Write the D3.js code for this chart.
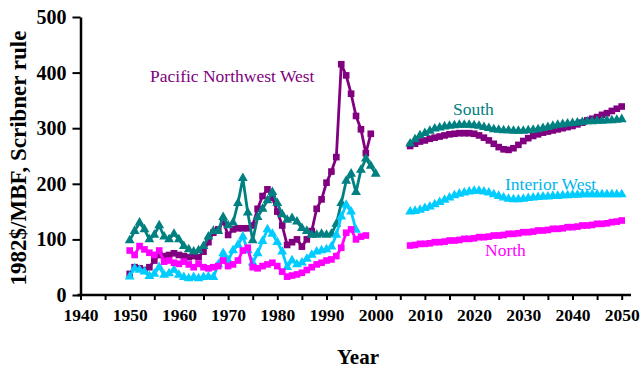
<!DOCTYPE html>
<html>
<head>
<meta charset="utf-8">
<script src="https://cdn.jsdelivr.net/npm/d3@7/dist/d3.min.js"></script>
<style>
  html, body { margin: 0; padding: 0; background: #fff; }
  svg { display: block; }
  text { font-family: "Liberation Serif", "Times New Roman", serif; }
</style>
</head>
<body>
<svg id="chart" width="642" height="370"></svg>
<script>
// Stumpage prices, 1982 dollars per thousand board feet (Scribner rule)
const histStart = 1950;
const projStart = 2007;

// Historical series (one value per year from 1950)
const pnwwHist = [38, 50, 48, 45, 50, 62, 72, 70, 72, 75, 72, 70, 68, 70, 68, 78, 95, 112, 118, 132,
  108, 118, 120, 120, 120, 125, 155, 178, 190, 175, 150, 125, 90, 95, 100, 87, 100, 115, 155, 172,
  202, 222, 248, 415, 395, 362, 322, 298, 255, 290];
const southHist = [98, 115, 130, 118, 100, 108, 125, 105, 100, 110, 100, 88, 82, 78, 80, 88, 105, 115, 115, 140,
  125, 130, 165, 210, 148, 98, 140, 155, 170, 185, 165, 145, 135, 138, 132, 120, 115, 108, 108, 110,
  108, 110, 128, 165, 205, 218, 185, 225, 245, 232, 218];
const interiorHist = [33, 48, 45, 42, 34, 38, 50, 36, 39, 45, 36, 32, 30, 32, 30, 32, 33, 32, 55, 75,
  62, 80, 90, 105, 80, 58, 75, 97, 118, 110, 95, 78, 50, 62, 55, 58, 65, 72, 78, 80,
  82, 87, 108, 141, 162, 150, 117];
const northHist = [80, 72, 88, 82, 76, 72, 80, 60, 62, 58, 56, 60, 55, 50, 56, 50, 48, 50, 52, 62,
  52, 55, 62, 80, 85, 50, 48, 52, 55, 58, 52, 42, 33, 35, 37, 40, 45, 50, 55, 58,
  62, 64, 70, 85, 112, 118, 100, 105, 107];

// Projected series (one value per year from 2007 to 2050)
const pnwwProj = [268, 272, 276, 278, 281, 283, 285, 287, 289, 290, 291, 291, 291, 290, 287, 283, 278, 272, 266, 262,
  261, 264, 270, 277, 282, 286, 289, 292, 294, 296, 298, 300, 302, 304, 307, 310, 314, 317, 320, 324,
  327, 331, 335, 339];
const southProj = [272, 280, 287, 291, 295, 299, 301, 303, 304, 305, 306, 306, 306, 305, 304, 302, 300, 298, 297, 296,
  296, 295, 295, 295, 296, 297, 298, 300, 302, 304, 306, 307, 308, 309, 310, 311, 312, 312, 313, 313,
  314, 314, 315, 316];
const interiorProj = [150, 151, 153, 156, 159, 163, 167, 171, 175, 179, 182, 184, 186, 187, 187, 186, 184, 181, 178, 175,
  173, 172, 172, 173, 174, 175, 176, 177, 177, 178, 178, 179, 179, 180, 180, 181, 181, 181, 181, 181,
  181, 181, 181, 181];
const northProj = [89, 90, 92, 92, 93, 95, 95, 96, 98, 98, 99, 101, 101, 102, 104, 104, 105, 107, 107, 108,
  110, 110, 111, 113, 113, 114, 116, 116, 117, 119, 119, 120, 122, 122, 123, 125, 125, 126, 128, 128,
  129, 131, 132, 134];

const yTicks = [0, 100, 200, 300, 400, 500];
const xTicks = d3.range(1940, 2051, 5);

const regions = [
  { name: "Pacific Northwest West", color: "#800080", labelColor: "#800080", marker: "square",
    hist: pnwwHist, proj: pnwwProj, label: [150, 82] },
  { name: "South", color: "#008080", labelColor: "#008080", marker: "triangle",
    hist: southHist, proj: southProj, label: [453, 115] },
  { name: "Interior West", color: "#00CCFF", labelColor: "#00B4EC", marker: "triangle",
    hist: interiorHist, proj: interiorProj, label: [505, 190] },
  { name: "North", color: "#FF00FF", labelColor: "#FF00FF", marker: "square",
    hist: northHist, proj: northProj, label: [485, 256] }
];

const svg = d3.select("#chart");
const x = d3.scaleLinear().domain([1940, 2050]).range([80.5, 621.7]);
const y = d3.scaleLinear().domain([0, 500]).range([295, 17]);

const toPoints = (vals, start) => vals.map((v, i) => ({ year: start + i, value: v }));
const line = d3.line().x(d => x(d.year)).y(d => y(d.value));
const symbolFor = m => m === "square"
  ? d3.symbol(d3.symbolSquare, 44)
  : d3.symbol(d3.symbolTriangle, 42);

regions.forEach(r => {
  const segments = [toPoints(r.hist, histStart), toPoints(r.proj, projStart)];
  const g = svg.append("g");
  segments.forEach(seg => {
    g.append("path")
      .datum(seg)
      .attr("fill", "none")
      .attr("stroke", r.color)
      .attr("stroke-width", 2.8)
      .attr("stroke-linejoin", "round")
      .attr("d", line);
    g.selectAll(null)
      .data(seg)
      .join("path")
      .attr("transform", d => `translate(${x(d.year)},${y(d.value)})`)
      .attr("fill", r.color)
      .attr("d", symbolFor(r.marker)());
  });
});

// Axes
const xAxis = d3.axisBottom(x)
  .tickValues(xTicks)
  .tickFormat(d => d % 10 === 0 ? d : "")
  .tickSizeInner(5)
  .tickSizeOuter(0)
  .tickPadding(9);
const gx = svg.append("g").attr("transform", `translate(0,${y(0)})`).call(xAxis);
gx.select(".domain").remove();
gx.append("line")
  .attr("x1", x(1940) - 3).attr("x2", 631)
  .attr("y1", 0).attr("y2", 0)
  .attr("stroke", "#000").attr("stroke-width", 2.5);
gx.selectAll(".tick line").attr("stroke-width", 2);
gx.selectAll(".tick text")
  .attr("font-size", 17.5).attr("font-weight", "bold").attr("fill", "#000")
  .attr("font-family", "Liberation Serif, serif");

const yAxis = d3.axisLeft(y)
  .tickValues(yTicks)
  .tickSizeInner(8)
  .tickSizeOuter(0)
  .tickPadding(6);
const gy = svg.append("g").attr("transform", `translate(${x(1940)},0)`).call(yAxis);
gy.select(".domain").attr("stroke-width", 2.5);
gy.selectAll(".tick line").attr("stroke-width", 2);
gy.selectAll(".tick text")
  .attr("font-size", 20).attr("font-weight", "bold").attr("fill", "#000")
  .attr("font-family", "Liberation Serif, serif");

// Axis titles
svg.append("text")
  .attr("x", 358).attr("y", 364)
  .attr("text-anchor", "middle")
  .attr("font-size", 21).attr("font-weight", "bold")
  .text("Year");
svg.append("text")
  .attr("transform", "translate(26,158) rotate(-90)")
  .attr("text-anchor", "middle")
  .attr("font-size", 23).attr("font-weight", "bold")
  .text("1982$/MBF, Scribner rule");

// Region labels
regions.forEach(r => {
  svg.append("text")
    .attr("x", r.label[0]).attr("y", r.label[1])
    .attr("font-size", 17.5)
    .attr("fill", r.labelColor)
    .text(r.name);
});
</script>
</body>
</html>
